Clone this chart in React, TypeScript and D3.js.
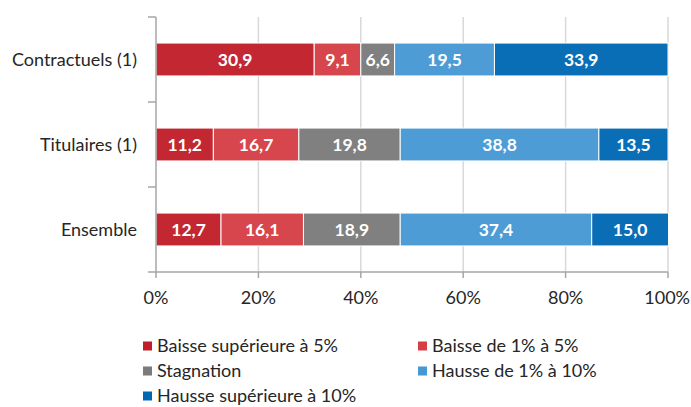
import * as d3 from "d3";

const categories = ["Contractuels (1)", "Titulaires (1)", "Ensemble"];
const seriesNames = [
  "Baisse supérieure à 5%",
  "Baisse de 1% à 5%",
  "Stagnation",
  "Hausse de 1% à 10%",
  "Hausse supérieure à 10%",
];
const seriesColors = ["#BF1E2A", "#D53E45", "#7B7B7B", "#4698D3", "#0068B3"];
// values per category, in series order
const contractuels = [30.9, 9.1, 6.6, 19.5, 33.9];
const titulaires = [11.2, 16.7, 19.8, 38.8, 13.5];
const ensemble = [12.7, 16.1, 18.9, 37.4, 15.0];
const xTicks = [0, 20, 40, 60, 80, 100];

const width = 691;
const height = 407;
const marginLeft = 156;
const marginRight = 23;
const plotTop = 17;
const plotBottom = 272;
const font = "Lato, 'Open Sans', sans-serif";

export default function App() {
  const rows = [contractuels, titulaires, ensemble];

  const x = d3.scaleLinear().domain([0, 100]).range([marginLeft, width - marginRight]);
  const y = d3
    .scaleBand<string>()
    .domain(categories)
    .range([plotTop, plotBottom])
    .paddingInner(0.613)
    .paddingOuter(0.3065);

  const stacked = rows.map((vals) => {
    const ends = d3.cumsum(vals);
    return vals.map((v, i) => ({ v, i, x0: ends[i] - v, x1: ends[i] }));
  });

  const step = y.step();
  const boundaries = d3.range(categories.length + 1).map((i) => plotTop + i * step);

  return (
    <div style={{ position: "fixed", left: 0, top: 0, width, height, overflow: "hidden" }}>
      <svg width={width} height={height} style={{ display: "block", fontFamily: font }}>
        <rect width={width} height={height} fill="#fff" />
        {/* grid */}
        {xTicks.slice(1).map((t) => (
          <line key={t} x1={x(t)} x2={x(t)} y1={plotTop} y2={plotBottom} stroke="#D9D9D9" strokeWidth={1.5} />
        ))}
        {/* bars */}
        {stacked.map((segs, r) => (
          <g key={categories[r]}>
            {segs.map((s) => (
              <rect
                key={s.i}
                x={x(s.x0)}
                y={y(categories[r])}
                width={x(s.x1) - x(s.x0)}
                height={y.bandwidth()}
                fill={seriesColors[s.i]}
                fillOpacity={0.96}
                stroke="#fff"
                strokeWidth={1}
              />
            ))}
            {segs.map((s) => (
              <text
                key={"t" + s.i}
                x={(x(s.x0) + x(s.x1)) / 2}
                y={(y(categories[r]) ?? 0) + y.bandwidth() / 2}
                dy="0.36em"
                textAnchor="middle"
                fill="#fff"
                fontWeight="bold"
                fontSize={17.5}
              >
                {s.v.toFixed(1).replace(".", ",")}
              </text>
            ))}
          </g>
        ))}
        {/* y axis */}
        <line x1={marginLeft} x2={marginLeft} y1={plotTop} y2={plotBottom} stroke="#A6A6A6" strokeWidth={1.5} />
        {boundaries.map((b) => (
          <line key={b} x1={marginLeft - 8} x2={marginLeft} y1={b} y2={b} stroke="#A6A6A6" strokeWidth={1.5} />
        ))}
        {categories.map((c) => (
          <text
            key={c}
            x={137}
            y={(y(c) ?? 0) + y.bandwidth() / 2}
            dy="0.36em"
            textAnchor="end"
            fontSize={18}
            fill="#262626"
          >
            {c}
          </text>
        ))}
        {/* x axis */}
        <line x1={marginLeft} x2={x(100)} y1={plotBottom} y2={plotBottom} stroke="#A6A6A6" strokeWidth={1.5} />
        {xTicks.map((t) => (
          <g key={t}>
            <line x1={x(t)} x2={x(t)} y1={plotBottom} y2={plotBottom + 6} stroke="#A6A6A6" strokeWidth={1.5} />
            <text
              x={t === 100 ? width - 1 : x(t)}
              y={298}
              dy="0.36em"
              textAnchor={t === 100 ? "end" : "middle"}
              fontSize={18}
              fill="#262626"
            >
              {t + "%"}
            </text>
          </g>
        ))}
        {/* legend */}
        {seriesNames.map((name, i) => {
          const col = i % 2;
          const row = Math.floor(i / 2);
          const lx = col === 0 ? 143 : 418;
          const ly = 346 + row * 25;
          return (
            <g key={name}>
              <rect x={lx} y={ly - 4.5} width={9} height={9} fill={seriesColors[i]} />
              <text x={lx + 14} y={ly} dy="0.36em" fontSize={18} fill="#262626">
                {name}
              </text>
            </g>
          );
        })}
      </svg>
    </div>
  );
}
